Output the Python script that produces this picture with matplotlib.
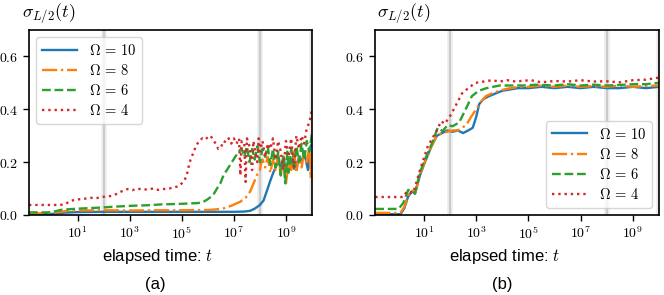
import numpy as np
import matplotlib
matplotlib.use("Agg")
import matplotlib.pyplot as plt
from matplotlib.ticker import FixedLocator, FuncFormatter, NullLocator

plt.rcParams['mathtext.fontset'] = 'cm'
plt.rcParams['font.family'] = ['Liberation Sans', 'DejaVu Sans']

# ---- dane: wykladnik log10(t) i wartosci sigma_{L/2} ----
labels = [r'$\Omega\,=\,10$', r'$\Omega\,=\,8$', r'$\Omega\,=\,6$', r'$\Omega\,=\,4$']
colors = ['#1f77b4', '#ff7f0e', '#2ca02c', '#d62728']
styles = ['-', '-.', '--', ':']

# panel (a)
a_logt_10 = [-0.87, 0.0, 0.5, 1.0, 2.0, 3.0, 4.0, 5.0, 6.0, 7.0, 7.4, 7.63, 7.8, 8.0, 8.14, 8.28, 8.4, 8.5,
             8.6, 8.7, 8.8, 8.9, 9.0, 9.1, 9.2, 9.3, 9.4, 9.5, 9.6, 9.7, 9.8, 9.85, 9.9, 10.0]
a_val_10 = [0.002, 0.004, 0.009, 0.011, 0.012, 0.012, 0.012, 0.012, 0.012, 0.012, 0.013, 0.016, 0.024, 0.038,
            0.055, 0.095, 0.13, 0.157, 0.18, 0.2, 0.18, 0.22, 0.17, 0.21, 0.19, 0.23, 0.18, 0.22, 0.2, 0.24,
            0.19, 0.17, 0.25, 0.27]

a_logt_8 = [-0.87, 0.0, 0.58, 1.0, 2.0, 3.0, 4.0, 5.0, 6.0, 6.3, 6.6, 6.9, 7.24, 7.45, 7.63, 7.8, 7.95, 8.0,
            8.05, 8.1, 8.2, 8.3, 8.4, 8.5, 8.6, 8.7, 8.8, 8.9, 9.0, 9.1, 9.2, 9.3, 9.4, 9.5, 9.6, 9.7, 9.8,
            9.9, 9.95, 10.0]
a_val_8 = [0.005, 0.008, 0.015, 0.017, 0.018, 0.017, 0.018, 0.018, 0.019, 0.021, 0.025, 0.035, 0.05, 0.065,
           0.09, 0.13, 0.165, 0.17, 0.2, 0.21, 0.18, 0.22, 0.16, 0.21, 0.17, 0.23, 0.15, 0.22, 0.12, 0.2,
           0.17, 0.24, 0.16, 0.22, 0.18, 0.24, 0.2, 0.26, 0.14, 0.2]

a_logt_6 = [-0.87, -0.06, 0.4, 1.0, 1.86, 2.5, 3.1, 3.7, 4.2, 4.9, 5.6, 5.8, 6.0, 6.2, 6.35, 6.48, 6.6, 6.86,
            7.05, 7.24, 7.3, 7.4, 7.5, 7.6, 7.7, 7.8, 7.9, 8.0, 8.1, 8.2, 8.3, 8.4, 8.5, 8.6, 8.7, 8.8, 8.9,
            8.97, 9.05, 9.1, 9.2, 9.3, 9.4, 9.5, 9.6, 9.7, 9.8, 9.9, 10.0]
a_val_6 = [0.01, 0.01, 0.02, 0.024, 0.028, 0.032, 0.035, 0.037, 0.04, 0.042, 0.045, 0.048, 0.06, 0.075, 0.1,
           0.12, 0.15, 0.19, 0.22, 0.247, 0.25, 0.22, 0.26, 0.2, 0.25, 0.21, 0.26, 0.2, 0.25, 0.22, 0.26,
           0.19, 0.25, 0.18, 0.24, 0.15, 0.22, 0.12, 0.24, 0.16, 0.25, 0.17, 0.26, 0.2, 0.27, 0.21, 0.28,
           0.24, 0.31]

a_logt_4 = [-0.87, 0.3, 0.5, 0.7, 0.9, 1.1, 1.3, 1.5, 1.7, 1.9, 2.1, 2.3, 2.5, 2.7, 2.9, 3.1, 3.3, 3.5, 3.7,
            3.9, 4.1, 4.3, 4.5, 4.7, 4.9, 5.0, 5.1, 5.2, 5.3, 5.4, 5.5, 5.6, 5.7, 5.8, 5.9, 6.0, 6.1, 6.2,
            6.3, 6.4, 6.5, 6.6, 6.7, 6.8, 6.9, 7.0, 7.1, 7.2, 7.25, 7.3, 7.4, 7.45, 7.5, 7.6, 7.7, 7.75,
            7.8, 7.9, 7.95, 8.0, 8.1, 8.2, 8.3, 8.4, 8.5, 8.6, 8.7, 8.8, 8.9, 9.0, 9.1, 9.2, 9.3, 9.4, 9.5,
            9.6, 9.7, 9.8, 9.9, 10.0]
a_val_4 = [0.038, 0.038, 0.04, 0.052, 0.058, 0.06, 0.062, 0.065, 0.063, 0.068, 0.07, 0.072, 0.08, 0.09, 0.098,
           0.094, 0.1, 0.096, 0.097, 0.1, 0.095, 0.098, 0.1, 0.104, 0.11, 0.12, 0.13, 0.155, 0.2, 0.225,
           0.25, 0.27, 0.285, 0.29, 0.285, 0.295, 0.3, 0.285, 0.27, 0.25, 0.255, 0.28, 0.275, 0.29, 0.27,
           0.29, 0.27, 0.29, 0.15, 0.28, 0.27, 0.125, 0.29, 0.26, 0.17, 0.28, 0.25, 0.2, 0.29, 0.24, 0.28,
           0.22, 0.27, 0.25, 0.29, 0.21, 0.28, 0.24, 0.17, 0.28, 0.22, 0.29, 0.18, 0.3, 0.25, 0.3, 0.27,
           0.33, 0.35, 0.4]

# panel (b)
b_logt_10 = [-0.86, 0.1, 0.25, 0.4, 0.55, 0.66, 0.85, 1.04, 1.29, 1.5, 1.7, 1.9, 2.1, 2.3, 2.5, 2.7, 2.87,
             3.0, 3.12, 3.3, 3.5, 3.75, 4.0, 4.3, 4.6, 5.0, 5.5, 6.0, 6.5, 7.0, 7.5, 8.0, 8.5, 9.0, 9.5, 10.0]
b_val_10 = [0.003, 0.003, 0.025, 0.07, 0.09, 0.08, 0.15, 0.2, 0.26, 0.3, 0.31, 0.32, 0.315, 0.32, 0.31,
            0.32, 0.33, 0.37, 0.42, 0.44, 0.45, 0.46, 0.47, 0.475, 0.48, 0.48, 0.485, 0.48, 0.485, 0.48,
            0.485, 0.48, 0.48, 0.485, 0.48, 0.485]

b_logt_8 = [-0.86, 0.1, 0.25, 0.4, 0.55, 0.66, 0.85, 1.04, 1.29, 1.5, 1.7, 1.9, 2.1, 2.3, 2.45, 2.62, 2.8,
            3.0, 3.2, 3.38, 3.6, 3.88, 4.2, 4.63, 5.0, 5.5, 6.0, 6.5, 7.0, 7.5, 8.0, 8.5, 9.0, 9.5, 10.0]
b_val_8 = [0.008, 0.008, 0.03, 0.075, 0.092, 0.082, 0.155, 0.2, 0.26, 0.3, 0.31, 0.315, 0.32, 0.32, 0.33,
           0.34, 0.37, 0.4, 0.43, 0.45, 0.46, 0.47, 0.478, 0.485, 0.485, 0.49, 0.485, 0.49, 0.485, 0.488,
           0.485, 0.49, 0.485, 0.488, 0.49]

b_logt_6 = [-0.86, 0.03, 0.21, 0.4, 0.5, 0.66, 0.85, 1.04, 1.29, 1.53, 1.72, 1.9, 2.1, 2.35, 2.6, 2.84, 3.1,
            3.4, 3.9, 4.3, 4.8, 5.3, 6.0, 6.5, 7.0, 7.5, 8.0, 8.5, 9.0, 9.5, 10.0]
b_val_6 = [0.023, 0.023, 0.045, 0.095, 0.09, 0.083, 0.16, 0.21, 0.266, 0.33, 0.317, 0.34, 0.336, 0.35, 0.4,
           0.45, 0.47, 0.48, 0.49, 0.49, 0.49, 0.493, 0.49, 0.495, 0.49, 0.493, 0.49, 0.492, 0.495, 0.495,
           0.5]

b_logt_4 = [-0.86, 0.21, 0.35, 0.6, 0.85, 1.15, 1.48, 1.66, 1.8, 2.04, 2.25, 2.46, 2.7, 2.97, 3.3, 3.6,
            3.9, 4.2, 4.5, 4.8, 5.1, 5.5, 6.0, 6.5, 7.0, 7.5, 8.0, 8.5, 9.0, 9.5, 10.0]
b_val_4 = [0.068, 0.068, 0.089, 0.085, 0.17, 0.26, 0.317, 0.355, 0.345, 0.38, 0.42, 0.46, 0.48, 0.5, 0.505,
           0.51, 0.505, 0.51, 0.505, 0.508, 0.51, 0.502, 0.507, 0.505, 0.51, 0.505, 0.506, 0.502, 0.51,
           0.512, 0.52]

panel_a = [(a_logt_10, a_val_10), (a_logt_8, a_val_8), (a_logt_6, a_val_6), (a_logt_4, a_val_4)]
panel_b = [(b_logt_10, b_val_10), (b_logt_8, b_val_8), (b_logt_6, b_val_6), (b_logt_4, b_val_4)]
vlines = [1e2, 1e8, 1e10]
xticks = [1e1, 1e3, 1e5, 1e7, 1e9]
yticks = [0.0, 0.2, 0.4, 0.6]

fig = plt.figure(figsize=(6.64, 2.95), dpi=100)
ax1 = fig.add_axes([29 / 664, 80 / 295, 283 / 664, 185 / 295])
ax2 = fig.add_axes([375 / 664, 80 / 295, 284 / 664, 185 / 295])

for ax, panel, loc in [(ax1, panel_a, 'upper left'), (ax2, panel_b, 'lower right')]:
	for v in vlines:
		# szara rozmyta linia: kilka warstw
		ax.axvline(v, color='gray', alpha=0.15, lw=4, zorder=0)
		ax.axvline(v, color='gray', alpha=0.3, lw=1.5, zorder=0)
	for (lt, val), c, ls, lab in zip(panel, colors, styles, labels):
		ax.plot(10 ** np.array(lt), val, color=c, ls=ls, lw=1.7, label=lab)
	ax.set_xscale('log')
	ax.set_xlim(10 ** -0.87, 1e10)
	ax.set_ylim(0, 0.7)
	ax.xaxis.set_major_locator(FixedLocator(xticks))
	ax.xaxis.set_minor_locator(NullLocator())
	ax.xaxis.set_major_formatter(FuncFormatter(lambda x, p: r'$10^{%d}$' % round(np.log10(x))))
	ax.set_yticks(yticks)
	ax.yaxis.set_major_formatter(FuncFormatter(lambda y, p: r'$%.1f$' % y))
	ax.tick_params(labelsize=10, length=4, width=1, direction='out')
	for s in ax.spines.values():
		s.set_linewidth(1.2)
	ax.legend(loc=loc, fontsize=10.5, handlelength=2.4, labelspacing=0.35)

# tytuly i podpisy
fig.text(22 / 664, 1 - 13 / 295, r'$\sigma_{L/2}(t)$', fontsize=13, va='center', ha='left')
fig.text(377 / 664, 1 - 13 / 295, r'$\sigma_{L/2}(t)$', fontsize=13, va='center', ha='left')
fig.text(157 / 664, 1 - 257 / 295, r'elapsed time: $t$', fontsize=12, va='center', ha='center')
fig.text(504 / 664, 1 - 257 / 295, r'elapsed time: $t$', fontsize=12, va='center', ha='center')
fig.text(155 / 664, 1 - 285 / 295, '(a)', fontsize=12, va='center', ha='center')
fig.text(502 / 664, 1 - 285 / 295, '(b)', fontsize=12, va='center', ha='center')

fig.savefig('out.png', dpi=100)
